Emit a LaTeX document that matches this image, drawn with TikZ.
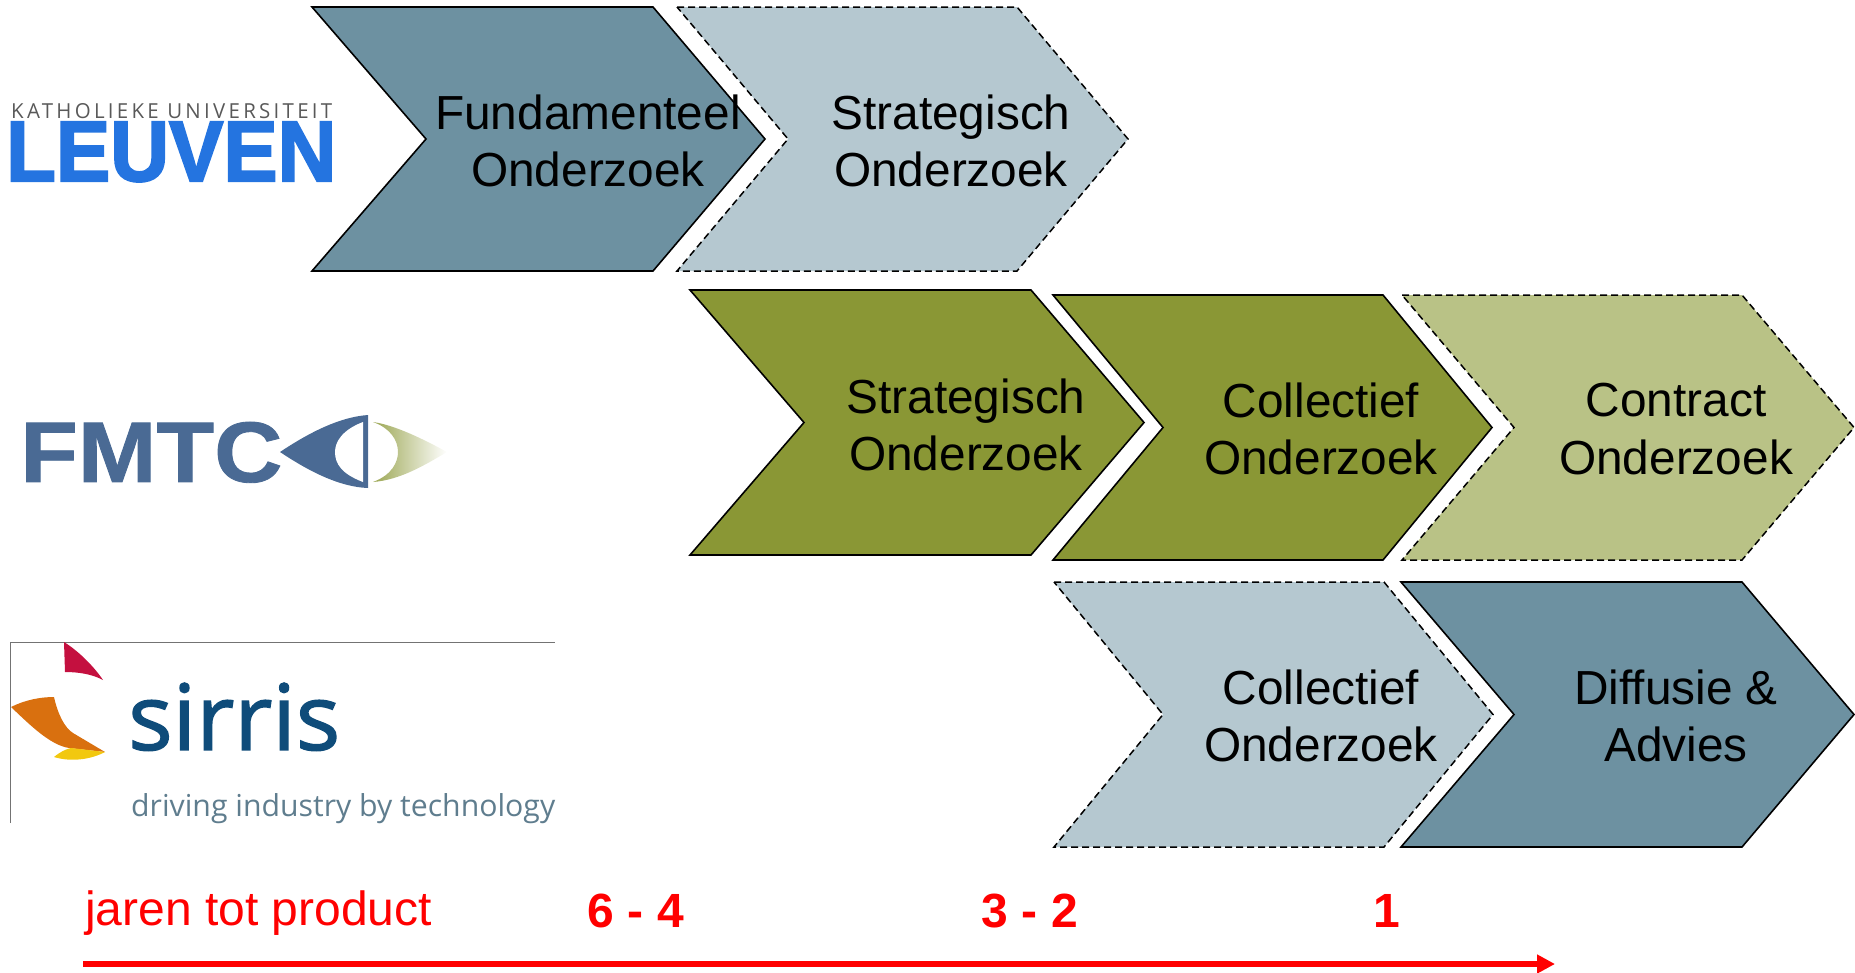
\documentclass[tikz,border=0pt]{standalone}
\usepackage{fontspec}
\usepackage{graphicx}
\setmainfont{Liberation Sans}
\newfontfamily\logofont{Open Sans}
\usetikzlibrary{arrows.meta}
\definecolor{teal}{HTML}{6D91A1}
\definecolor{paleteal}{HTML}{B5C8D0}
\definecolor{olive}{HTML}{8A9735}
\definecolor{paleolive}{HTML}{B9C286}
\definecolor{kublue}{HTML}{2474E0}
\definecolor{fmblue}{HTML}{4A6A94}
\definecolor{sirblue}{HTML}{0F4C7A}
\definecolor{sirgrey}{HTML}{5F7D8E}
\definecolor{sirred}{HTML}{C4103F}
\definecolor{sirorange}{HTML}{D9700F}
\definecolor{siryellow}{HTML}{F2C80F}
\tikzset{
  solidchev/.style={draw=black,line width=1.6pt,line join=miter},
  dashchev/.style={draw=black,line width=1.5pt,dash pattern=on 7pt off 4pt},
  chevtext/.style={font=\fontsize{47.8}{57.5}\selectfont,align=center,inner sep=0pt,text=black},
  redtext/.style={font=\fontsize{48}{57}\selectfont,text=red,inner sep=0pt,anchor=base},
  redbold/.style={font=\fontsize{48}{57}\selectfont\bfseries,text=red,inner sep=0pt,anchor=base},
  logotext/.style={inner sep=0pt,anchor=south west}
}
% #1 style, #2 fill, #3 left, #4 notch, #5 shoulder, #6 tip, #7 top, #8 bottom
\newcommand\chevshape[8]{%
  \draw[#1,fill=#2] (#3,#7) -- (#5,#7) -- (#6,{(#7+#8)/2}) -- (#5,#8) -- (#3,#8) -- (#4,{(#7+#8)/2}) -- cycle;}
\begin{document}
\begin{tikzpicture}[x=1pt,y=-1pt]
\useasboundingbox (0,0) rectangle (1855,972);
% row 1
\chevshape{solidchev}{teal}{312}{426}{653}{765}{7}{271}
\chevshape{dashchev}{paleteal}{677}{788}{1017}{1128}{7}{271}
% row 2
\chevshape{solidchev}{olive}{690}{804}{1031}{1144}{290}{555}
\chevshape{solidchev}{olive}{1053}{1163}{1383}{1492}{295}{560}
\chevshape{dashchev}{paleolive}{1402}{1514}{1742}{1854}{295}{560}
% row 3
\chevshape{dashchev}{paleteal}{1054}{1163}{1384}{1493}{582}{847}
\chevshape{solidchev}{teal}{1401}{1514}{1742}{1854}{582}{847}
% chevron labels
\node[chevtext] (t1) at (588,141) {Fundamenteel\\Onderzoek};
\node[chevtext] (t2) at (951,141) {Strategisch\\Onderzoek};
\node[chevtext] (t3) at (966,425) {Strategisch\\Onderzoek};
\node[chevtext] (t4) at (1321,429) {Collectief\\Onderzoek};
\node[chevtext] (t5) at (1676,429) {Contract\\Onderzoek};
\node[chevtext] (t6) at (1321,716) {Collectief\\Onderzoek};
\node[chevtext] (t7) at (1676,716) {Diffusie \&\\Advies};
% KU Leuven logo
\node[logotext,text=black!65] (ku1) at (11,119) {\resizebox{321pt}{15pt}{\logofont\addfontfeature{LetterSpace=16}KATHOLIEKE UNIVERSITEIT}};
\node[logotext,text=kublue] (ku2) at (6,182) {\resizebox{330pt}{59pt}{\addfontfeature{FakeBold=2.5}\bfseries LEUVEN}};
% FMTC logo
\node[logotext,text=fmblue] (fm) at (20,483) {\resizebox{262pt}{60pt}{\addfontfeature{FakeBold=1}\bfseries FMTC}};
\fill[fmblue] (280,452) .. controls (310,432) and (340,417) .. (368,415) -- (368,488) .. controls (340,487) and (310,472) .. (280,452) -- cycle;
\fill[white] (363,422) .. controls (342,430) and (335,442) .. (335,452) .. controls (335,464) and (342,474) .. (363,482) -- cycle;
\shade[left color=olive!85,right color=white] (373,422) .. controls (395,425) and (425,440) .. (447,452) .. controls (425,465) and (400,480) .. (373,482) .. controls (392,475) and (398,462) .. (398,452) .. controls (398,440) and (390,428) .. (373,422) -- cycle;
% Sirris logo
\draw[black!55,line width=1pt] (10,823) -- (10,642) -- (555,642);
\fill[sirred] (64,642) .. controls (80,652) and (95,668) .. (103,680) .. controls (92,674) and (78,672) .. (65,672) -- cycle;
\fill[sirorange] (11,707) .. controls (25,700) and (40,697) .. (54,697) .. controls (58,715) and (65,728) .. (73,733) -- (105,752) -- (69,748) .. controls (50,745) and (30,725) .. (11,707) -- cycle;
\fill[siryellow] (54,757) .. controls (60,752) and (66,749) .. (71,748) -- (105,752) .. controls (90,760) and (70,762) .. (54,757) -- cycle;
\node[logotext,text=sirblue] (sir1) at (128,751) {\resizebox{212pt}{67pt}{\logofont\addfontfeature{FakeBold=1.5}sirris}};
\node[logotext,text=sirgrey,anchor=base west] (sir2) at (131,816) {\resizebox{424pt}{!}{\logofont driving industry by technology}};
% time axis
\node[redtext,anchor=base west] (jaren) at (85,925) {jaren tot product};
\node[redbold] (y1) at (636,927) {6 - 4};
\node[redbold] (y2) at (1030,927) {3 - 2};
\node[redbold] (y3) at (1387,927) {1};
\coordinate (axstart) at (83,964);
\coordinate (axend) at (1555,964);
\draw[red,line width=6pt,-{Triangle[length=18pt,width=18pt]}] (axstart) -- (axend);
\end{tikzpicture}
\end{document}
